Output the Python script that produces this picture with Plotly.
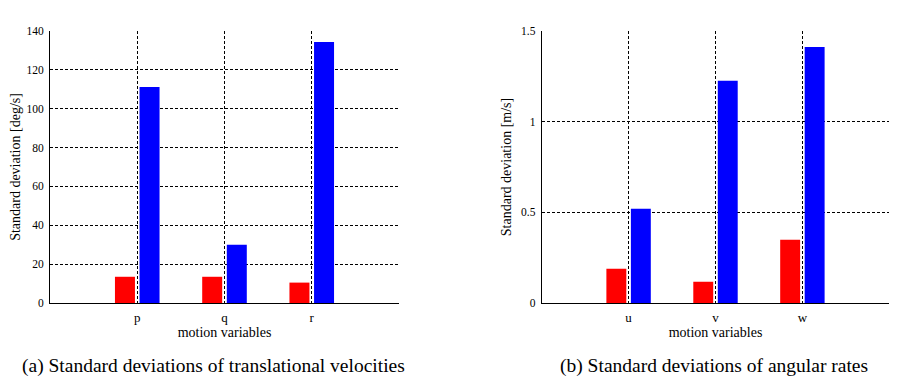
import plotly.graph_objects as go

# Data
trans_categories = ["p", "q", "r"]
trans_red = [13.5, 13.5, 10.5]
trans_blue = [111.2, 30.0, 134.3]

ang_categories = ["u", "v", "w"]
ang_red = [0.189, 0.117, 0.349]
ang_blue = [0.52, 1.225, 1.412]

positions = [1, 2, 3]

FONT = "Liberation Serif"
W, H = 899, 381
OFF = 8  # browser body margin

def px_x(x):
    return (x - OFF) / W

def px_y(y):
    return 1 - (y - OFF) / H

fig = go.Figure()
fig.add_trace(go.Bar(x=positions, y=trans_red, marker=dict(color="#ff0000", line=dict(width=0)),
                     xaxis="x", yaxis="y", showlegend=False, offsetgroup="a"))
fig.add_trace(go.Bar(x=positions, y=trans_blue, marker=dict(color="#0000ff", line=dict(width=0)),
                     xaxis="x", yaxis="y", showlegend=False, offsetgroup="b"))
fig.add_trace(go.Bar(x=positions, y=ang_red, marker=dict(color="#ff0000", line=dict(width=0)),
                     xaxis="x2", yaxis="y2", showlegend=False, offsetgroup="a"))
fig.add_trace(go.Bar(x=positions, y=ang_blue, marker=dict(color="#0000ff", line=dict(width=0)),
                     xaxis="x2", yaxis="y2", showlegend=False, offsetgroup="b"))

ydom = [px_y(303), px_y(31)]
xd1 = [px_x(50), px_x(399)]
xd2 = [px_x(541.7), px_x(889.3)]

DASH = "3px,2px"
YTICK = 11.5
XTICK = 13
TITLE = 14

common_x = dict(range=[0, 4], tickvals=positions, showgrid=True, gridcolor="black",
                griddash=DASH, gridwidth=1, showline=True, linecolor="black", linewidth=1,
                zeroline=False, ticks="", automargin=False, ticklabelstandoff=2,
                tickfont=dict(size=XTICK, color="black", family=FONT),
                title=dict(text="motion variables", font=dict(size=TITLE, color="black", family=FONT),
                           standoff=0))
common_y = dict(showgrid=True, gridcolor="black", griddash=DASH, gridwidth=1,
                showline=True, linecolor="black", linewidth=1, zeroline=False, ticks="",
                automargin=False, ticklabelstandoff=3,
                tickfont=dict(size=YTICK, color="black", family=FONT))

fig.update_layout(
    width=W, height=H,
    margin=dict(l=0, r=0, t=0, b=0),
    paper_bgcolor="white", plot_bgcolor="white",
    barmode="group", bargap=0.436, bargroupgap=0.187,
    font=dict(family=FONT, color="black"),
    xaxis=dict(domain=xd1, anchor="y", ticktext=trans_categories, **common_x),
    yaxis=dict(domain=ydom, anchor="x", range=[0, 140], tickvals=[0, 20, 40, 60, 80, 100, 120, 140],
               title=dict(text="Standard deviation [deg/s]", font=dict(size=TITLE, color="black", family=FONT),
                          standoff=6),
               **common_y),
    xaxis2=dict(domain=xd2, anchor="y2", ticktext=ang_categories, **common_x),
    yaxis2=dict(domain=ydom, anchor="x2", range=[0, 1.5], tickvals=[0, 0.5, 1, 1.5],
                ticktext=["0", "0.5", "1", "1.5"],
                title=dict(text="Standard deviation [m/s]", font=dict(size=TITLE, color="black", family=FONT),
                           standoff=6),
                **common_y),
    annotations=[
        dict(text="(a) Standard deviations of translational velocities", xref="paper", yref="paper",
             x=px_x(213), y=px_y(366), xanchor="center", yanchor="middle", showarrow=False,
             font=dict(size=19.5, color="black", family=FONT)),
        dict(text="(b) Standard deviations of angular rates", xref="paper", yref="paper",
             x=px_x(714), y=px_y(366), xanchor="center", yanchor="middle", showarrow=False,
             font=dict(size=19.5, color="black", family=FONT)),
    ],
)

fig.write_html("out.html")
